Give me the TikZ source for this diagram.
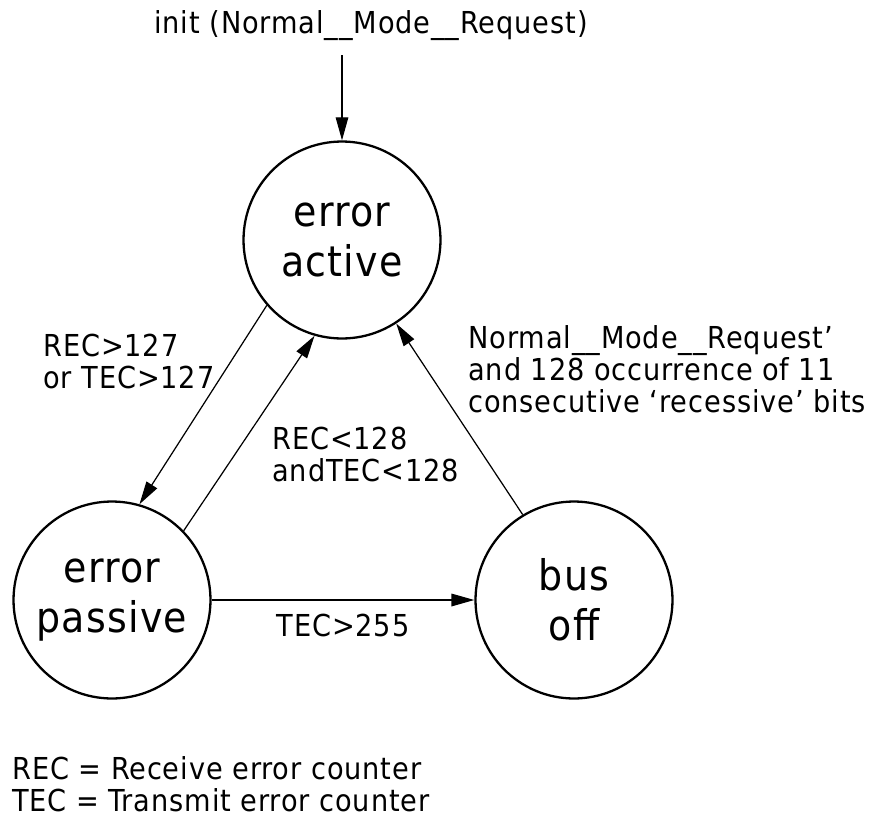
\documentclass[tikz,border=0pt]{standalone}
\usepackage{fontspec}
\setmainfont{DejaVu Sans Condensed}[LetterSpace=3]
\usetikzlibrary{arrows.meta}
\begin{document}
\begin{tikzpicture}[x=0.02cm,y=-0.02cm,
  state/.style={draw,circle,line width=1.3pt,minimum size=3.94cm,inner sep=0pt,align=center,font=\fontsize{24}{28.5}\selectfont},
  lbl/.style={inner sep=0pt,align=left,font=\fontsize{17.2}{18.2}\selectfont},
  trans/.style={line width=0.7pt,-{Triangle[length=0.46cm,width=0.25cm]}}]
\useasboundingbox (0,0) rectangle (873,825);
% states
\node[state] (active) at (342,240) {error\\active};
\node[state] (passive) at (112,600) {error\\passive};
\node[state] (busoff) at (574,600) {bus\\off};
% init
\node[lbl,anchor=base] (init) at (371,33) {init (Normal\_\_Mode\_\_Request)};
\coordinate (start) at (342,55);
\draw[trans] (start) -- (active);
% transitions
\draw[trans] (active.221.8) -- (passive.74);
\draw[trans] (passive.44.6) -- (active.254.4);
\draw[trans] (busoff.121.8) -- (active.303.4);
\draw[trans,line width=1pt] (passive) -- (busoff) node[lbl,midway,below=0.26cm] (tec255) {TEC>255};
% labels
\node[lbl,anchor=north west] (up) at (43,334) {REC>127\\or TEC>127};
\node[lbl,anchor=north west] (down) at (272,427) {REC<128\\andTEC<128};
\node[lbl,anchor=north west] (recover) at (468,325) {Normal\_\_Mode\_\_Request'\\and 128 occurrence of 11\\consecutive `recessive' bits};
\node[lbl,anchor=north west] (legend) at (12,756) {REC = Receive error counter\\TEC = Transmit error counter};
\end{tikzpicture}
\end{document}
